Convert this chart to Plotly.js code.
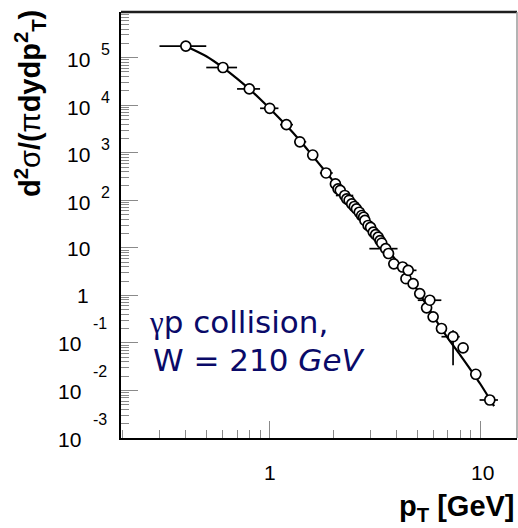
<!DOCTYPE html>
<html>
<head>
<meta charset="utf-8">
<script src="https://cdn.plot.ly/plotly-3.0.1.min.js"></script>
<style>html,body{margin:0;padding:0;background:#fff;}#chart{width:518px;height:528px;}</style>
</head>
<body>
<div id="chart"></div>
<script>
// ---- data ----
// fitted curve
const fitPt = [0.4, 0.5, 0.6, 0.7, 0.8, 0.9, 1.0, 1.2, 1.4, 1.6, 1.85, 2.1, 2.5, 3.0, 3.5, 4.0, 4.5, 5.0, 6.0, 7.0, 8.0, 9.0, 10.0, 11.6];
const fitXsec = [1.74e5, 1.07e5, 6.17e4, 3.63e4, 2.19e4, 1.35e4, 8510, 3720, 1740, 851, 389, 195, 75.9, 26.9, 11.2, 5.25, 2.57, 1.32, 0.355, 0.126, 0.0562, 0.0269, 0.0135, 0.00468];
// measured points
const pT    = [0.4, 0.6, 0.8, 1.0, 1.2, 1.39, 1.6, 1.85, 2.05, 2.11, 2.16, 2.27, 2.32, 2.38, 2.45, 2.52, 2.58, 2.66, 2.73, 2.79, 2.83, 2.93, 3.01, 3.10, 3.18, 3.27, 3.34, 3.40, 3.55, 3.66, 3.88, 4.27, 4.43, 4.54, 4.79, 5.15, 5.55, 5.75, 5.96, 6.53, 7.41, 8.27, 9.5, 11.07];
const xsec  = [1.75e5, 6.2e4, 2.2e4, 8.6e3, 3.9e3, 1.7e3, 895, 375, 221, 173, 162, 126, 107, 100, 84, 74, 66, 56, 47.8, 44, 37.6, 29.5, 27, 21.4, 19, 16.8, 14.2, 12.6, 9.6, 7.6, 4.6, 3.95, 2.24, 3.36, 1.76, 1.09, 0.547, 0.79, 0.354, 0.201, 0.135, 0.079, 0.0219, 0.0063];
const pTlow  = [0.30, 0.50, 0.70, 0.90, 1.12, 1.31, null, 1.73, null, null, null, 2.06, null, null, null, null, null, null, null, null, null, null, null, null, null, null, null, null, 2.97, null, null, null, null, 4.15, null, null, null, 5.04, null, null, 6.53, null, null, 9.9];
const pThigh = [0.50, 0.70, 0.90, 1.10, 1.29, 1.49, null, 1.99, null, null, null, 2.49, null, null, null, null, null, null, null, null, null, null, null, null, null, null, null, null, 4.04, null, null, null, null, 4.97, null, null, null, 6.52, null, null, 7.97, null, null, 12.1];
const xsLow  = [null, null, null, null, null, null, null, null, null, null, null, null, null, null, null, null, null, null, null, null, null, null, null, null, null, null, null, null, null, null, null, null, null, null, null, null, null, null, null, null, 0.034, null, 0.0184, 0.0050];
const xsHigh = [null, null, null, null, null, null, null, null, null, null, null, null, null, null, null, null, null, null, null, null, null, null, null, null, null, null, null, null, null, null, null, null, null, null, null, null, null, null, null, null, 0.185, null, 0.026, 0.0079];
// axis ticks
const yExponents = [5, 4, 3, 2, 1, 0, -1, -2, -3];
const xMajor = [1, 10];
const xMajorLabels = ["1", "10"];

// ---- layout helpers ----
const L = 121, R = 1, T = 12, B = 90, Wd = 518, Ht = 528;
const pw = Wd - L - R, ph = Ht - T - B;
const px2paperX = p => (p - L) / pw;
const py2paperY = p => (Ht - B - p) / ph;

const minorY = [];
for (let k = -3; k <= 5; k++) for (let m = 2; m <= 9; m++) minorY.push(m * Math.pow(10, k));
const minorX = [];
for (let k = -1; k <= 1; k++) for (let m = 2; m <= 9; m++) minorX.push(m * Math.pow(10, k));

const fitTrace = {
  x: fitPt, y: fitXsec, type: 'scatter', mode: 'lines',
  line: {color: 'black', width: 2.2, shape: 'spline', smoothing: 0.8},
  hoverinfo: 'skip', showlegend: false
};
const dataTrace = {
  x: pT, y: xsec, type: 'scatter', mode: 'markers',
  marker: {symbol: 'circle', size: 10, color: 'white', line: {color: 'black', width: 1.7}},
  error_x: {type: 'data', symmetric: false,
    array: pT.map((v, i) => pThigh[i] == null ? 0 : pThigh[i] - v),
    arrayminus: pT.map((v, i) => pTlow[i] == null ? 0 : v - pTlow[i]),
    width: 0, thickness: 1.7, color: 'black'},
  error_y: {type: 'data', symmetric: false,
    array: xsec.map((v, i) => xsHigh[i] == null ? 0 : xsHigh[i] - v),
    arrayminus: xsec.map((v, i) => xsLow[i] == null ? 0 : v - xsLow[i]),
    width: 0, thickness: 1.7, color: 'black'},
  showlegend: false
};

const tickFont = {family: 'Liberation Sans, Arial, sans-serif', size: 21, color: 'black'};
const expFont = {family: 'Liberation Sans, Arial, sans-serif', size: 16, color: 'black'};
const ann = [];
yExponents.forEach(k => {
  if (k >= 2) {
    ann.push({xref: 'paper', yref: 'y', x: px2paperX(92), y: k, xanchor: 'right', yanchor: 'middle', yshift: -2, text: '10', showarrow: false, font: tickFont});
    ann.push({xref: 'paper', yref: 'y', x: px2paperX(99), y: k, xanchor: 'left', yanchor: 'middle', yshift: 8, text: String(k), showarrow: false, font: expFont});
  } else if (k === 1) {
    ann.push({xref: 'paper', yref: 'y', x: px2paperX(92), y: k, xanchor: 'right', yanchor: 'middle', yshift: -1, text: '10', showarrow: false, font: tickFont});
  } else if (k === 0) {
    ann.push({xref: 'paper', yref: 'y', x: px2paperX(91), y: k, xanchor: 'right', yanchor: 'middle', yshift: 0, text: '1', showarrow: false, font: tickFont});
  } else {
    ann.push({xref: 'paper', yref: 'y', x: px2paperX(83), y: k, xanchor: 'right', yanchor: 'middle', yshift: -1, text: '10', showarrow: false, font: tickFont});
    ann.push({xref: 'paper', yref: 'y', x: px2paperX(109), y: k, xanchor: 'right', yanchor: 'middle', yshift: 19, text: String(k), showarrow: false, font: expFont});
  }
});
xMajor.forEach((v, i) => {
  ann.push({xref: 'x', yref: 'paper', x: Math.log10(v), y: py2paperY(472), xanchor: 'center', yanchor: 'middle', xshift: i === 1 ? 2 : 0, text: xMajorLabels[i], showarrow: false, font: tickFont});
});
// axis titles
ann.push({xref: 'paper', yref: 'paper', x: px2paperX(30), y: py2paperY(104), xanchor: 'center', yanchor: 'middle', textangle: -90,
  text: '<b>d<sup>2</sup></b>σ<b>/(</b>π<b>dydp<sup>2</sup><sub>T</sub>)</b>', showarrow: false,
  font: {family: 'Liberation Sans, Arial, sans-serif', size: 29, color: 'black'}});
ann.push({xref: 'paper', yref: 'paper', x: 1, y: py2paperY(508), xanchor: 'right', yanchor: 'middle',
  text: '<b>p<sub>T</sub> [GeV]</b>', showarrow: false,
  font: {family: 'Liberation Sans, Arial, sans-serif', size: 29, color: 'black'}});
// physics label
const navy = '#0a0a68';
ann.push({xref: 'paper', yref: 'paper', x: px2paperX(147), y: py2paperY(322), xanchor: 'left', yanchor: 'middle',
  text: '<span style="font-family:Liberation Serif">γ</span>p collision,', showarrow: false,
  font: {family: 'DejaVu Sans, sans-serif', size: 31, color: navy}});
ann.push({xref: 'paper', yref: 'paper', x: px2paperX(151), y: py2paperY(360), xanchor: 'left', yanchor: 'middle',
  text: 'W = 210 <i>GeV</i>', showarrow: false,
  font: {family: 'DejaVu Sans, sans-serif', size: 31, color: navy}});

const layout = {
  width: Wd, height: Ht,
  margin: {l: L, r: R, t: T, b: B, pad: 0},
  paper_bgcolor: 'white', plot_bgcolor: 'white',
  showlegend: false,
  xaxis: {type: 'log', range: [Math.log10(0.197), Math.log10(14.9)],
    showgrid: false, zeroline: false, showline: true, linecolor: 'black', linewidth: 2,
    ticks: 'inside', ticklen: 17, tickwidth: 1, tickcolor: '#8a8a8a',
    tickmode: 'array', tickvals: xMajor, showticklabels: false,
    minor: {tickmode: 'array', tickvals: minorX, ticks: 'inside', ticklen: 8, tickwidth: 1, tickcolor: '#8a8a8a', showgrid: false}},
  yaxis: {type: 'log', range: [-3.0, 5.96],
    showgrid: false, zeroline: false, showline: true, linecolor: 'black', linewidth: 2,
    ticks: 'inside', ticklen: 17, tickwidth: 1, tickcolor: '#8a8a8a',
    tickmode: 'array', tickvals: yExponents.map(k => Math.pow(10, k)), showticklabels: false,
    minor: {tickmode: 'array', tickvals: minorY, ticks: 'inside', ticklen: 8, tickwidth: 1, tickcolor: '#8a8a8a', showgrid: false}},
  shapes: [
    {type: 'line', xref: 'paper', yref: 'paper', x0: 0, x1: 1, y0: 1, y1: 1, line: {color: '#1e1e1e', width: 2.5}},
    {type: 'line', xref: 'paper', yref: 'paper', x0: 1, x1: 1, y0: 0, y1: 1, line: {color: '#9a9a9a', width: 1.5}}
  ],
  annotations: ann
};
Plotly.newPlot('chart', [fitTrace, dataTrace], layout, {staticPlot: true, displayModeBar: false});
</script>
</body>
</html>
